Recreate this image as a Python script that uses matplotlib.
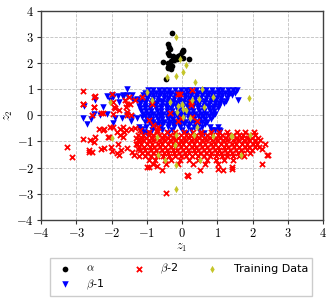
import numpy as np
import matplotlib
matplotlib.use('Agg')
import matplotlib.pyplot as plt

plt.rcParams['mathtext.fontset'] = 'cm'
plt.rcParams['font.size'] = 8

# alpha cluster
alpha_x = [-0.29, -0.39, -0.37, -0.34, 0.02, 0.00, -0.41, -0.25, -0.10, 0.02, 0.21, -0.53, -0.39,
           -0.31, -0.25, -0.41, -0.32, -0.39, -0.45, -0.10, -0.15, -0.36, -0.22, -0.05, 0.04, -0.29]
alpha_y = [3.13, 2.71, 2.62, 2.52, 2.49, 2.41, 2.37, 2.26, 2.26, 2.20, 2.15, 2.02, 2.01,
           2.06, 2.20, 1.83, 1.76, 1.80, 1.40, 2.20, 2.15, 2.30, 2.10, 2.30, 2.45, 1.90]

# beta-1 : dense core, row by row (y, x values)
beta1_rows = [
    (0.96, [-0.97, -0.81, -0.66, -0.52, -0.36, -0.21, -0.04, 0.11, 0.24, 0.41, 0.56, 0.69, 0.86, 1.01, 1.14, 1.31, 1.46, 1.55]),
    (0.86, [-1.05, -0.91, -0.74, -0.61, -0.44, -0.31, -0.14, 0.01, 0.16, 0.29, 0.46, 0.59, 0.76, 0.91, 1.04, 1.21, 1.36, 1.49]),
    (0.76, [-1.11, -0.94, -0.81, -0.64, -0.51, -0.34, -0.21, -0.04, 0.09, 0.26, 0.39, 0.56, 0.71, 0.84, 1.01, 1.14, 1.31, 1.42]),
    (0.66, [-1.13, -0.99, -0.82, -0.69, -0.52, -0.39, -0.22, -0.09, 0.08, 0.21, 0.38, 0.51, 0.68, 0.81, 0.98, 1.11, 1.27]),
    (0.56, [-1.16, -1.01, -0.86, -0.69, -0.56, -0.39, -0.26, -0.09, 0.04, 0.21, 0.34, 0.51, 0.64, 0.81, 0.94, 1.11, 1.24]),
    (0.46, [-1.18, -1.04, -0.87, -0.74, -0.57, -0.44, -0.27, -0.14, 0.03, 0.16, 0.33, 0.46, 0.63, 0.76, 0.93, 1.06, 1.19]),
    (0.36, [-1.21, -1.06, -0.89, -0.76, -0.59, -0.46, -0.29, -0.16, 0.01, 0.14, 0.31, 0.44, 0.61, 0.74, 0.91, 1.04]),
    (0.26, [-1.19, -1.04, -0.91, -0.74, -0.61, -0.44, -0.31, -0.14, -0.01, 0.16, 0.29, 0.46, 0.59, 0.76, 0.89, 1.02]),
    (0.16, [-1.17, -1.02, -0.89, -0.72, -0.59, -0.42, -0.29, -0.12, 0.01, 0.18, 0.31, 0.48, 0.61, 0.78, 0.92]),
    (0.06, [-1.12, -0.96, -0.83, -0.66, -0.53, -0.36, -0.23, -0.06, 0.07, 0.24, 0.37, 0.54, 0.67, 0.84, 0.94]),
    (-0.04, [-1.04, -0.91, -0.74, -0.61, -0.44, -0.31, -0.14, -0.01, 0.16, 0.29, 0.46, 0.59, 0.76, 0.88]),
    (-0.14, [-0.99, -0.86, -0.69, -0.56, -0.39, -0.26, -0.09, 0.04, 0.21, 0.34, 0.51, 0.64, 0.81]),
    (-0.24, [-0.94, -0.81, -0.64, -0.51, -0.34, -0.21, -0.04, 0.09, 0.26, 0.39, 0.56, 0.71]),
    (-0.34, [-0.89, -0.71, -0.56, -0.39, -0.26, -0.09, 0.06, 0.19, 0.36, 0.49, 0.66]),
    (-0.45, [-1.02, -0.79, -0.61, -0.41, -0.24, -0.06, 0.16, 0.34, 0.56, 0.79, 1.01]),
    (-0.56, [-0.84, -0.56, -0.29, 0.01, 0.26, 0.49, 0.86, 1.06]),
    (-0.66, [-0.94, -0.41, 0.11, 0.61]),
]
beta1_out_x = [-2.77, -2.80, -2.69, -2.12, -2.04, -1.95, -1.81, -1.66, -1.55, -1.43, -1.38, -1.29,
               -2.33, -2.14, -1.90, -1.71, -1.57, -1.43, -1.29, -1.14, -1.05, -1.14, -1.08, -2.47,
               -2.23, -1.55, -1.99, -1.68, -1.78, -2.59, -2.51, -1.95, -1.45, -1.21, -1.00, 1.60,
               -1.19, -1.10, 0.84, 1.03, 0.94, 1.08]
beta1_out_y = [0.35, -0.12, -0.34, 0.74, 0.58, 0.68, 0.74, 0.71, 0.77, 0.77, 0.58, 0.64,
               0.00, 0.04, -0.12, -0.12, 0.00, -0.06, -0.12, -0.06, -0.25, -0.51, -0.67, 0.58,
               0.32, 0.99, 0.77, 0.77, 0.52, -0.16, 0.04, -0.29, -0.21, -0.44, -0.70, 0.58,
               -0.57, -0.63, -0.61, -0.61, -0.57, -0.60]

# beta-2 : dense core rows and scattered points
beta2_rows = [
    (-0.64, [-0.93, -0.71, -0.44, -0.19, 0.06, 0.31, 0.54, 0.81, 1.04, 1.29, 1.56, 1.79, 2.04]),
    (-0.74, [-1.24, -1.11, -0.94, -0.81, -0.64, -0.51, -0.34, -0.21, -0.04, 0.11, 0.24, 0.41, 0.54, 0.71,
             0.84, 1.01, 1.14, 1.31, 1.44, 1.61, 1.74, 1.91, 2.06]),
    (-0.85, [-1.31, -1.14, -1.01, -0.84, -0.71, -0.54, -0.41, -0.24, -0.11, 0.06, 0.19, 0.36, 0.49, 0.66,
             0.79, 0.96, 1.09, 1.26, 1.39, 1.56, 1.69, 1.86, 1.99, 2.16]),
    (-0.96, [-1.24, -1.11, -0.94, -0.81, -0.64, -0.51, -0.34, -0.21, -0.04, 0.09, 0.26, 0.39, 0.56, 0.69,
             0.86, 0.99, 1.16, 1.29, 1.46, 1.59, 1.76, 1.89, 2.06, 2.21]),
    (-1.08, [-1.29, -1.16, -0.99, -0.86, -0.69, -0.56, -0.39, -0.26, -0.09, 0.04, 0.21, 0.34, 0.51, 0.64,
             0.81, 0.94, 1.11, 1.24, 1.41, 1.54, 1.71, 1.84, 2.01, 2.14]),
    (-1.20, [-1.23, -1.09, -0.92, -0.79, -0.62, -0.49, -0.32, -0.19, -0.02, 0.11, 0.28, 0.41, 0.58, 0.71,
             0.88, 1.01, 1.18, 1.31, 1.48, 1.61, 1.78, 1.91, 2.08, 2.19]),
    (-1.32, [-1.18, -1.04, -0.87, -0.74, -0.57, -0.44, -0.27, -0.14, 0.03, 0.16, 0.33, 0.46, 0.63, 0.76,
             0.93, 1.06, 1.23, 1.36, 1.53, 1.66, 1.83, 1.98]),
    (-1.44, [-1.14, -0.99, -0.82, -0.69, -0.52, -0.39, -0.22, -0.09, 0.08, 0.21, 0.38, 0.51, 0.68, 0.81,
             0.98, 1.11, 1.28, 1.41, 1.58, 1.71, 1.92]),
    (-1.56, [-1.04, -0.87, -0.71, -0.54, -0.37, -0.21, -0.04, 0.12, 0.29, 0.46, 0.62, 0.79, 0.96, 1.12,
             1.29, 1.46, 1.62, 1.76]),
    (-1.70, [-0.94, -0.76, -0.49, -0.31, -0.06, 0.21, 0.44, 0.71, 0.96, 1.19, 1.46]),
    (-1.85, [-0.81, -0.46, -0.11, 0.31, 0.64, 1.01]),
]
beta2_out_x = [-2.82, -2.82, -2.49, -2.49, -2.56, -2.30, -1.99, -1.97, -1.90, -1.78, -1.62, -1.49,
               -1.47, -1.33, -1.59, -1.57, -1.45, -1.14, -2.47, -2.80, -2.50, -1.92, -1.97, -1.57,
               -1.55, -2.25, -2.23,
               -2.80, -2.61, -2.47, -2.35, -2.09, -1.97, -1.85, -1.76, -1.66, -1.59, -1.33, -3.26,
               -3.13, -2.49, -2.22, -2.04, -2.08, -2.65, -2.55, -2.30, -2.22, -2.01, -1.99, -1.83,
               -1.84, -1.80, -1.73, -1.65, -1.68, -1.56, -1.45, -1.43, -1.35, -1.26, -1.21, -1.21,
               -1.30, -1.18, -1.75, -2.63,
               -0.93, -0.81, -0.72, -0.86,
               -0.10, 0.27, 0.26, 0.25, -0.34, -0.12, -0.03, 0.27, 0.43, -0.67, -0.06,
               -1.00, -0.72, -0.58, 0.18, 0.13, 0.51, -0.45, 1.15, 1.41, 2.26, 2.40, 2.35, 2.43,
               2.26, 1.03, 1.41, -0.95]
beta2_out_y = [0.94, 0.45, 0.71, 0.32, 0.00, 0.07, 0.81, 0.51, 0.26, 0.20, 0.60, 0.71,
               0.45, 0.58, 0.32, 0.00, 0.00, 0.68, 0.74, 0.43, 0.32, 0.32, 0.04, 0.43,
               0.13, 0.07, -0.55,
               -0.89, -0.95, -0.83, -0.51, -0.83, -0.44, -0.63, -0.51, -0.44, -0.57, -0.47, -1.21,
               -1.60, -1.02, -0.53, -0.44, -0.83, -1.34, -1.40, -1.27, -1.25, -1.21, -1.38, -1.08,
               -1.44, -1.53, -1.34, -0.63, -0.83, -1.25, -0.51, -1.40, -1.50, -1.27, -1.55, -0.89,
               -1.08, -0.57, -0.76, -1.40,
               -0.19, -0.38, -0.57, 0.45,
               0.83, 0.96, 0.52, 0.39, 0.07, -0.21, -0.09, -0.06, -0.21, -0.44, 0.83,
               -1.98, -1.95, -2.08, -2.33, -2.30, -2.10, -2.97, -2.08, -1.98, -1.85, -1.53, -1.08, -1.50,
               -1.27, -2.04, -2.04, -1.97]

# training data
train_x = [-0.17, -0.06, 0.11, 0.02, -0.43, -0.17, 0.37, 0.58, -2.04, -1.00, -0.34, -0.01, 0.28,
           0.49, 0.89, 0.62, 0.02, -0.15, 0.04, 0.23, 1.91, -0.86, 0.42, 0.35, -0.17, 1.93,
           -1.98, -0.70, -0.20, -0.67, -0.48, -0.18, 0.51, 1.66, -0.17, 1.39, 0.89, 1.43,
           0.10, 0.01, -0.12]
train_y = [3.00, 2.14, 1.92, 1.66, 1.47, 1.50, 1.26, 0.99, 0.51, 0.90, 0.51, 0.45, 0.58,
           0.64, 0.70, 0.32, 0.25, 0.13, -0.06, -0.12, 0.67, 0.60, -0.44, -0.76, -0.76, -0.76,
           -0.88, -0.83, -1.15, -1.53, -1.72, -1.91, -1.72, -1.52, -2.83, -0.80, -0.80, -0.79,
           0.20, 0.39, 0.35]

beta1_x = [x for y, xs in beta1_rows for x in xs] + beta1_out_x
beta1_y = [y for y, xs in beta1_rows for x in xs] + beta1_out_y
beta2_x = [x for y, xs in beta2_rows for x in xs] + beta2_out_x
beta2_y = [y for y, xs in beta2_rows for x in xs] + beta2_out_y

ticks = [-4, -3, -2, -1, 0, 1, 2, 3, 4]

fig = plt.figure(figsize=(3.32, 3.03), dpi=100)
ax = fig.add_axes([0.1235, 0.274, 0.8495, 0.691])

ax.scatter(alpha_x, alpha_y, s=17, c='black', marker='o', linewidths=0, label=r'$\alpha$', zorder=3)
ax.scatter(beta1_x, beta1_y, s=22, c='blue', marker='v', linewidths=0, label=r'$\beta$-1', zorder=3)
ax.scatter(beta2_x, beta2_y, s=14, c='red', marker='x', linewidths=1.3, label=r'$\beta$-2', zorder=3)
ax.scatter(train_x, train_y, s=14, c='#c5c52a', marker='d', linewidths=0, label='Training Data', zorder=4)

ax.set_xlim(-4, 4)
ax.set_ylim(-4, 4)
ax.set_xticks(ticks)
ax.set_yticks(ticks)
ax.set_xticklabels([f'${t}$' for t in ticks], fontsize=9)
ax.set_yticklabels([f'${t}$' for t in ticks], fontsize=9)
ax.tick_params(direction='out', length=3, width=0.8, pad=2, color='0.2')
ax.grid(True, linestyle='--', linewidth=0.6, color='0.75')
ax.set_axisbelow(True)
for sp in ax.spines.values():
    sp.set_color('0.25')
    sp.set_linewidth(1.0)

ax.set_xlabel(r'$z_1$', fontsize=9, labelpad=1)
ax.set_ylabel(r'$z_2$', fontsize=9, labelpad=1)

ax.legend(loc='upper left', bbox_to_anchor=(0.012, -0.255, 0.968, 0.1), mode='expand',
          ncol=3, fontsize=8, fancybox=False, edgecolor='0.8', framealpha=1,
          handletextpad=0.9, borderpad=0.35, labelspacing=0.35, markerscale=1.0,
          scatterpoints=1)

fig.savefig('out.png', dpi=100)
